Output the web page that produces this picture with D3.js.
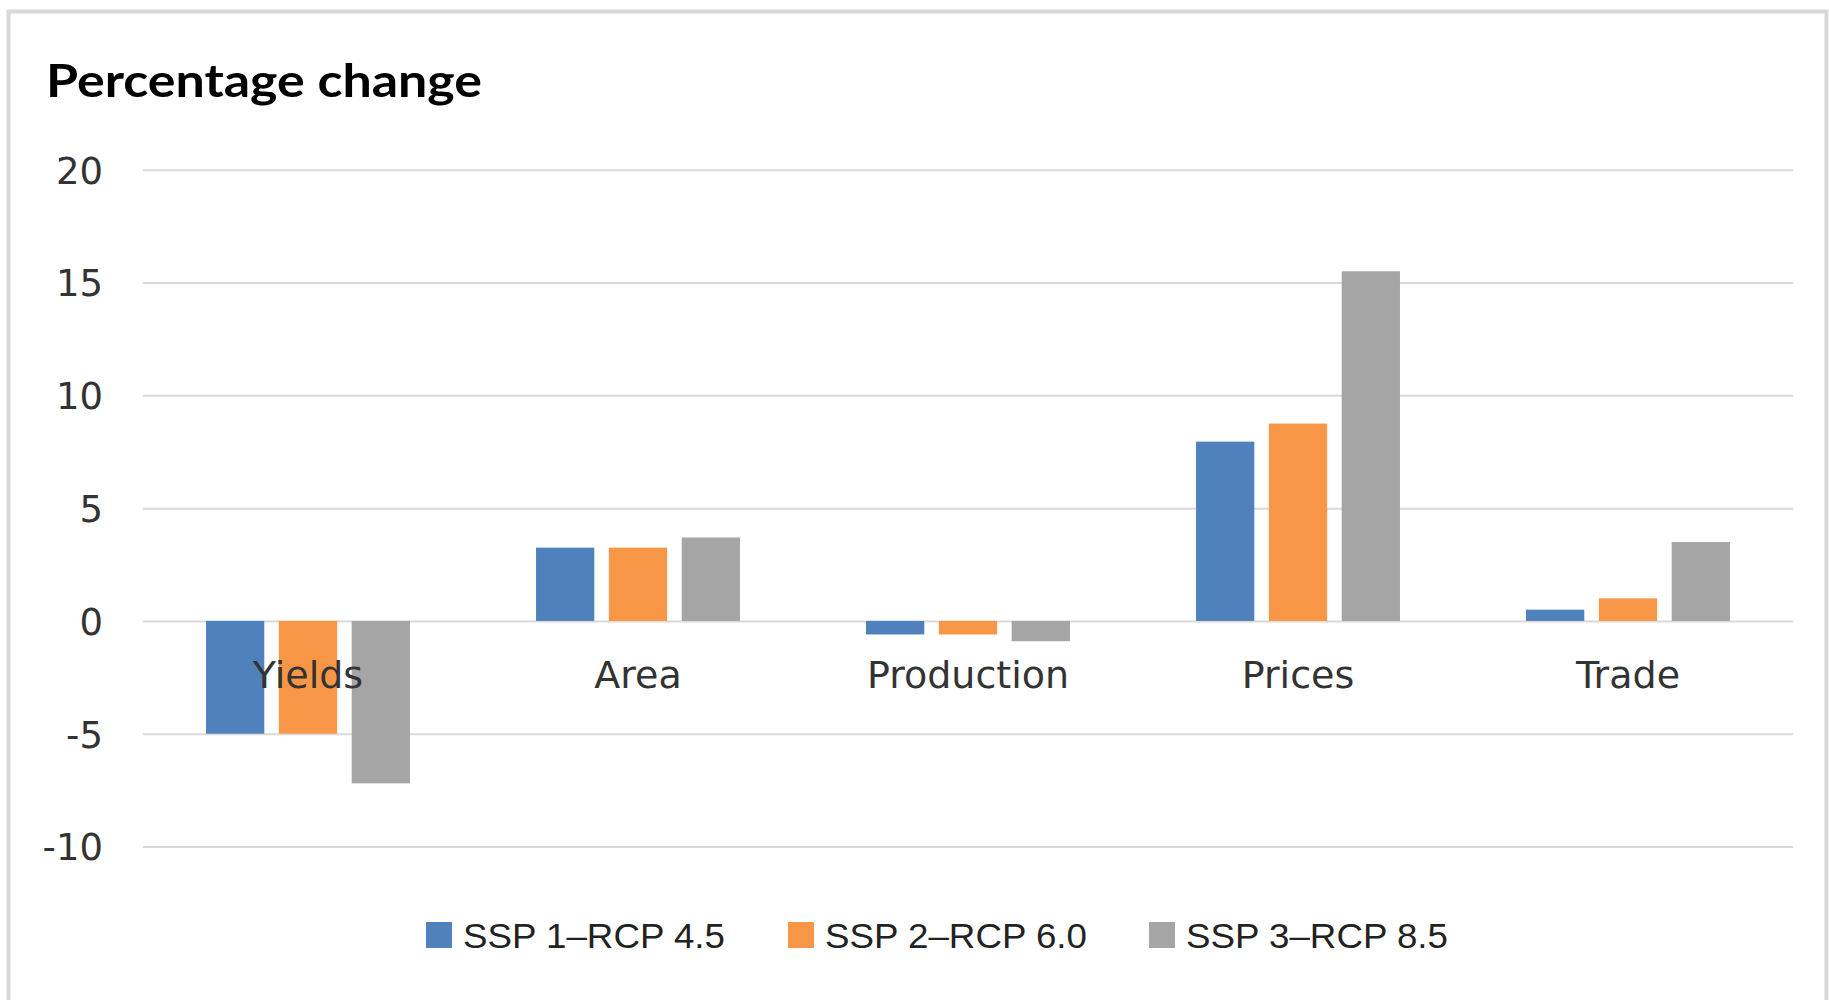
<!DOCTYPE html>
<html>
<head>
<meta charset="utf-8">
<script src="https://cdn.jsdelivr.net/npm/d3@7"></script>
<style>
  html, body { margin: 0; padding: 0; background: #ffffff; }
  svg { display: block; }
</style>
</head>
<body>
<svg id="chart" width="1829" height="1000"></svg>
<script>
// ---- data ----
const categories = ["Yields", "Area", "Production", "Prices", "Trade"];
const seriesNames = ["SSP 1\u2013RCP 4.5", "SSP 2\u2013RCP 6.0", "SSP 3\u2013RCP 8.5"];
const ssp1 = [-5.0, 3.25, -0.6, 7.95, 0.5];
const ssp2 = [-5.0, 3.25, -0.6, 8.75, 1.0];
const ssp3 = [-7.2, 3.7, -0.9, 15.5, 3.5];
const tickValues = [-10, -5, 0, 5, 10, 15, 20];
const colors = ["#4f81bd", "#f79646", "#a5a5a5"];

const seriesValues = [ssp1, ssp2, ssp3];

const svg = d3.select("#chart");

// frame (chart area border)
svg.append("path")
  .attr("d", "M8.5,1000 L8.5,11.5 L1826.5,11.5 L1826.5,1000")
  .attr("fill", "none")
  .attr("stroke", "#d9d9d9")
  .attr("stroke-width", 4);

// title
svg.append("text")
  .attr("x", 46)
  .attr("y", 97)
  .attr("font-family", "Lato, 'Open Sans', sans-serif")
  .attr("font-weight", "bold")
  .attr("font-size", 46)
  .attr("fill", "#000")
  .attr("textLength", 436)
  .attr("lengthAdjust", "spacingAndGlyphs")
  .text("Percentage change");

const plotLeft = 143, plotRight = 1793;

const y = d3.scaleLinear().domain([-10, 20]).range([846.5, 169.8]);

const x0 = d3.scaleBand().domain(categories)
  .range([plotLeft, plotRight])
  .paddingInner(0.382).paddingOuter(0.191);

const x1 = d3.scaleBand().domain(d3.range(seriesNames.length))
  .range([0, x0.bandwidth()])
  .paddingInner(0.2).paddingOuter(0);

// y axis with gridlines
const yAxis = d3.axisLeft(y)
  .tickValues(tickValues)
  .tickSize(-(plotRight - plotLeft))
  .tickPadding(40)
  .tickFormat(d => String(d));

const gy = svg.append("g")
  .attr("transform", `translate(${plotLeft},0)`)
  .call(yAxis);
gy.select(".domain").remove();
gy.selectAll(".tick line")
  .attr("stroke", "#d9d9d9")
  .attr("stroke-width", 2);
gy.selectAll(".tick text")
  .attr("font-family", "'DejaVu Sans', Verdana, sans-serif")
  .attr("font-size", 37)
  .attr("fill", "#333")
  .attr("dy", "0.36em")
  .attr("x", -40);

// bars
const groups = svg.append("g").selectAll("g")
  .data(categories)
  .join("g")
  .attr("transform", d => `translate(${x0(d)},0)`);

groups.selectAll("rect")
  .data((d, i) => seriesValues.map((s, k) => ({ k, v: s[i] })))
  .join("rect")
  .attr("x", d => x1(d.k))
  .attr("width", x1.bandwidth())
  .attr("y", d => y(Math.max(0, d.v)))
  .attr("height", d => Math.abs(y(d.v) - y(0)))
  .attr("fill", d => colors[d.k]);

// category labels (Excel places them just below zero line)
const xAxis = d3.axisBottom(x0).tickSize(0).tickPadding(0);
const gx = svg.append("g")
  .attr("transform", `translate(0,${y(0)})`)
  .call(xAxis);
gx.select(".domain").remove();
gx.selectAll(".tick text")
  .attr("font-family", "'DejaVu Sans', Verdana, sans-serif")
  .attr("font-size", 38)
  .attr("fill", "#333")
  .attr("y", 67)
  .attr("dy", 0);

// legend
const legendX = [426, 788, 1149];
const legend = svg.append("g").selectAll("g")
  .data(seriesNames)
  .join("g")
  .attr("transform", (d, i) => `translate(${legendX[i]},0)`);
legend.append("rect")
  .attr("x", 0).attr("y", 922)
  .attr("width", 26).attr("height", 26)
  .attr("fill", (d, i) => colors[i]);
legend.append("text")
  .attr("x", 37).attr("y", 948)
  .attr("font-family", "'Liberation Sans', Arial, sans-serif")
  .attr("font-size", 35)
  .attr("fill", "#222")
  .attr("textLength", 262)
  .attr("lengthAdjust", "spacingAndGlyphs")
  .text(d => d);
</script>
</body>
</html>
